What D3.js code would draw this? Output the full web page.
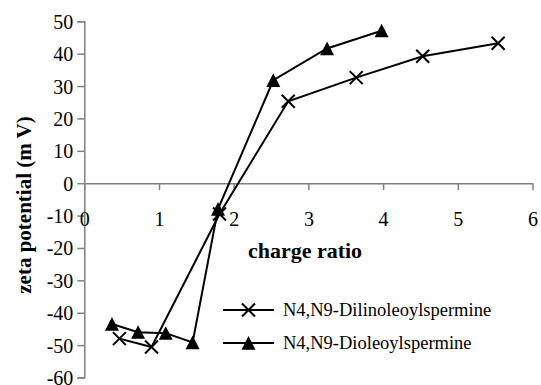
<!DOCTYPE html>
<html>
<head>
<meta charset="utf-8">
<script src="https://cdn.jsdelivr.net/npm/d3@7"></script>
<style>
  body { margin: 0; background: #fff; }
  svg { display: block; }
  text { font-family: 'Liberation Serif', 'Times New Roman', serif; }
</style>
</head>
<body>
<div id="chart"></div>
<script>
// data
var linoX = [0.47, 0.90, 1.81, 2.73, 3.64, 4.53, 5.54];
var linoY = [-48.0, -50.6, -9.5, 25.3, 32.6, 39.2, 43.2];
var oleoX = [0.37, 0.72, 1.09, 1.45, 1.79, 2.53, 3.25, 3.98];
var oleoY = [-43.5, -46.0, -46.3, -49.2, -8.0, 31.8, 41.6, 47.1];
var xTicks = [0, 1, 2, 3, 4, 5, 6];
var yTicks = [-60, -50, -40, -30, -20, -10, 0, 10, 20, 30, 40, 50];
var seriesNames = ["N4,N9-Dilinoleoylspermine", "N4,N9-Dioleoylspermine"];

var width = 541, height = 385;
var margin = { top: 21.3, right: 8.5, bottom: 7.5, left: 84.3 };

var svg = d3.select("#chart").append("svg")
    .attr("width", width)
    .attr("height", height);

var x = d3.scaleLinear().domain([0, 6]).range([margin.left, width - margin.right]);
var y = d3.scaleLinear().domain([-60, 50]).range([height - margin.bottom, margin.top]);

var axisColor = "#808080";
var serif = "'Liberation Serif', 'Times New Roman', serif";

// y axis
var yAxis = svg.append("g")
    .attr("transform", "translate(" + x(0) + ",0)")
    .call(d3.axisLeft(y).tickValues(yTicks).tickSize(7).tickPadding(4)
        .tickFormat(function(d) { return String(d); }));
yAxis.attr("font-family", serif);
yAxis.select(".domain").attr("stroke", axisColor).attr("stroke-width", 1.5);
yAxis.selectAll(".tick line").attr("stroke", axisColor).attr("stroke-width", 1.5);
yAxis.selectAll("text")
    .style("font-family", serif)
    .style("font-size", "20px")
    .attr("fill", "#000")
    .attr("dy", "0.35em");

// x axis sits on y = 0
var xAxis = svg.append("g")
    .attr("transform", "translate(0," + y(0) + ")")
    .call(d3.axisBottom(x).tickValues(xTicks).tickSize(7).tickPadding(22).tickSizeOuter(0)
        .tickFormat(function(d) { return String(d); }));
xAxis.attr("font-family", serif);
xAxis.select(".domain").attr("stroke", axisColor).attr("stroke-width", 1.5);
xAxis.selectAll(".tick line").attr("stroke", axisColor).attr("stroke-width", 1.5);
xAxis.selectAll("text")
    .style("font-family", serif)
    .style("font-size", "20px")
    .attr("fill", "#000");

// axis titles
svg.append("text")
    .attr("x", 305)
    .attr("y", 258)
    .attr("text-anchor", "middle")
    .style("font-family", serif)
    .attr("font-weight", "bold")
    .attr("font-size", "22px")
    .text("charge ratio");

svg.append("text")
    .attr("transform", "translate(31,205) rotate(-90)")
    .attr("text-anchor", "middle")
    .style("font-family", serif)
    .attr("font-weight", "bold")
    .attr("font-size", "21px")
    .text("zeta potential (m V)");

// markers
function crossPath(s) {
    return "M" + (-s) + "," + (-s) + "L" + s + "," + s + "M" + (-s) + "," + s + "L" + s + "," + (-s);
}
function triPath(s) {
    return "M0," + (-s) + "L" + s + "," + (s * 0.95) + "L" + (-s) + "," + (s * 0.95) + "Z";
}

var line = d3.line().x(function(d) { return x(d[0]); }).y(function(d) { return y(d[1]); });

var lino = d3.zip(linoX, linoY);
var oleo = d3.zip(oleoX, oleoY);

svg.append("path").datum(lino)
    .attr("d", line).attr("fill", "none").attr("stroke", "#000").attr("stroke-width", 2);
svg.append("path").datum(oleo)
    .attr("d", line).attr("fill", "none").attr("stroke", "#000").attr("stroke-width", 2);

svg.selectAll(".cross").data(lino).enter().append("path")
    .attr("class", "cross")
    .attr("transform", function(d) { return "translate(" + x(d[0]) + "," + y(d[1]) + ")"; })
    .attr("d", crossPath(6.5))
    .attr("stroke", "#000").attr("stroke-width", 2).attr("fill", "none");

svg.selectAll(".tri").data(oleo).enter().append("path")
    .attr("class", "tri")
    .attr("transform", function(d) { return "translate(" + x(d[0]) + "," + y(d[1]) + ")"; })
    .attr("d", triPath(7))
    .attr("fill", "#000");

// legend
var legend = svg.append("g").attr("transform", "translate(223,310)");
seriesNames.forEach(function(name, i) {
    var g = legend.append("g").attr("transform", "translate(0," + (i * 33) + ")");
    g.append("line").attr("x1", 0).attr("x2", 51).attr("y1", 0).attr("y2", 0)
        .attr("stroke", "#000").attr("stroke-width", 2);
    g.append("path")
        .attr("transform", "translate(25.5,0)")
        .attr("d", i === 0 ? crossPath(6.5) : triPath(7))
        .attr("stroke", i === 0 ? "#000" : "none")
        .attr("stroke-width", 2)
        .attr("fill", i === 0 ? "none" : "#000");
    g.append("text")
        .attr("x", 60)
        .attr("y", 0)
        .attr("dy", "0.33em")
        .style("font-family", serif)
        .attr("font-size", "18.5px")
        .text(name);
});
</script>
</body>
</html>
